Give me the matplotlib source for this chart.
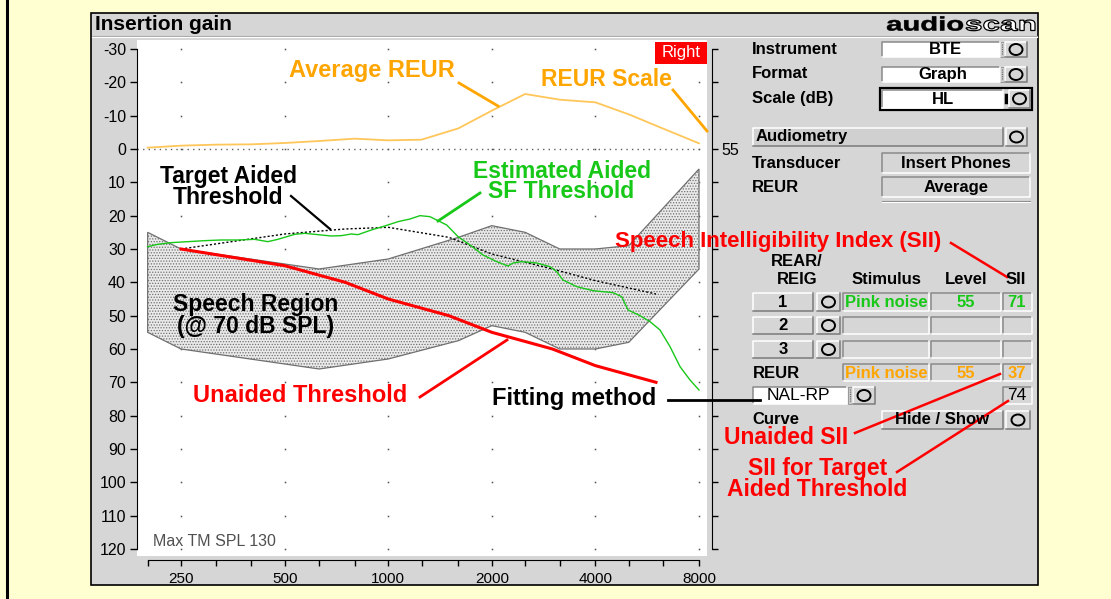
import numpy as np
import matplotlib.pyplot as plt
from matplotlib.patches import Rectangle, Ellipse, PathPatch
from matplotlib.textpath import TextPath
from matplotlib.font_manager import FontProperties
from matplotlib.transforms import Affine2D
from matplotlib.ticker import NullFormatter

plt.rcParams['font.family'] = ['Liberation Sans', 'DejaVu Sans']
plt.rcParams['hatch.linewidth'] = 0.6

# ---- curve data (frequency in Hz, level in dB HL) ----
reur_freq = [200, 250, 315, 400, 500, 630, 800, 1000, 1250, 1600, 2000,
             2500, 3150, 4000, 5000, 6300, 8000]
reur_db = [-0.4, -1.0, -1.3, -1.4, -1.8, -2.4, -3.1, -2.6, -2.8, -6.2, -11.5,
           -16.5, -14.8, -14.0, -10.4, -6.1, -1.7]

audio_freq = [250, 500, 750, 1000, 1500, 2000, 3000, 4000, 6000]
unaided_db = [30, 35, 40, 45, 50, 55, 60, 65, 70]
target_db = [30, 25.5, 24, 23.5, 26.5, 31.5, 36, 39.5, 43.5]

speech_freq = [200, 250, 630, 1000, 1600, 2000, 2500, 3150, 4000, 5000, 8000]
speech_upper = [25, 30, 36, 33, 26.5, 23, 25, 30, 30, 29, 6]
speech_lower = [55, 60, 66, 63, 57.5, 53, 55, 60, 60, 58, 36]

aided_freq = [200, 214, 234, 293, 327, 366, 409, 447, 478, 535, 572, 611,
              683, 731, 781, 817, 893, 977, 1068, 1157, 1237, 1322, 1479,
              1596, 1729, 1886, 2067, 2229, 2305, 2443, 2700, 2952, 3087,
              3220, 3530, 3937, 4500, 4770, 4976, 5392, 5765, 6163, 6590,
              7047, 7533, 8000]
aided_db = [29.3, 28.6, 28.1, 27.5, 27.3, 27.3, 27.1, 27.8, 27.1, 25.6, 25.3,
            25.6, 26.1, 26.0, 25.5, 25.7, 24.3, 23.1, 21.8, 21.0, 20.0, 20.3,
            22.8, 26.3, 28.8, 31.8, 33.8, 35.1, 34.2, 33.8, 34.2, 35.3, 36.8,
            39.3, 41.3, 42.5, 43.1, 44.3, 48.3, 50.0, 51.8, 54.3, 59.3, 65.3,
            69.3, 72.3]

major_freq = [250, 500, 1000, 2000, 4000, 8000]
major_labels = ['250', '500', '1000', '2000', '4000', '8000']
minor_freq = [200, 315, 400, 630, 800, 1250, 1600, 2500, 3150, 5000, 6300]
level_ticks = list(range(-30, 121, 10))
reur_scale_ref = '55'

# SII table
stimuli = ['Pink noise', '', '']
levels = ['55', '', '']
sii_values = ['71', '', '']
reur_row = ['Pink noise', '55', '37']
target_sii = '74'

W, H = 1111, 599
YELLOW = '#FFFFD2'
PANEL = '#D6D6D6'
RED = '#FF0000'
ORANGE = '#FFA500'
GREEN = '#18C818'

fig = plt.figure(figsize=(W / 100, H / 100), dpi=100, facecolor=YELLOW)


def pixel_axes(z):
    a = fig.add_axes([0, 0, 1, 1], zorder=z)
    a.set_xlim(0, W)
    a.set_ylim(H, 0)
    a.axis('off')
    return a


# ---- window background ----
bg = pixel_axes(0)
bg.plot([6.5, 6.5], [0, H], color='black', lw=2.2)
bg.add_patch(Rectangle((91, 13), 947, 572, facecolor=PANEL,
                       edgecolor='black', lw=1.2))
bg.plot([92, 1037], [35.5, 35.5], color='#A8A8A8', lw=0.8)
bg.plot([92, 1037], [36.5, 36.5], color='white', lw=0.8)
bg.text(95, 25, 'Insertion gain', fontsize=15, fontweight='bold',
        va='center', ha='left')

# ---- graph ----
x0, x1, ytop, ybot = 137, 707, 40, 556
ax = fig.add_axes([x0 / W, 1 - ybot / H, (x1 - x0) / W, (ybot - ytop) / H],
                  zorder=1)
ax.set_facecolor('white')
ax.set_xscale('log')
octave_px = 103.6
ax.set_xlim(250 * 2 ** ((x0 - 181) / octave_px),
            250 * 2 ** ((x1 - 181) / octave_px))
ax.set_ylim((ybot - 149) / 3.333, (ytop - 149) / 3.333)

ax.set_xticks(major_freq)
ax.set_xticklabels(major_labels)
ax.set_xticks(minor_freq, minor=True)
ax.xaxis.set_minor_formatter(NullFormatter())
ax.set_yticks(level_ticks)
ax.set_yticklabels([str(v) for v in level_ticks])
ax.tick_params(axis='x', which='both', direction='out', length=4.5,
               width=1, pad=4, labelsize=11)
ax.tick_params(axis='y', direction='out', length=5, width=1, pad=3,
               labelsize=11.5)
for side in ('top', 'right'):
    ax.spines[side].set_visible(False)
ax.spines['left'].set_bounds(-30, 120)
ax.spines['bottom'].set_position(('outward', 3))
ax.spines['bottom'].set_bounds(200, 8000)

# grid points and the 0 dB reference line
gx, gy = np.meshgrid(major_freq, level_ticks)
ax.plot(gx.ravel(), gy.ravel(), ls='none', marker='s', ms=1.1,
        mfc='#505050', mec='none', zorder=1)
ax.plot([ax.get_xlim()[0], 8000], [0, 0], color='#606060', lw=1,
        ls=(0, (1, 3)), zorder=1)

# speech region
ax.fill(speech_freq + speech_freq[::-1], speech_upper + speech_lower[::-1],
        facecolor='#EAEAEA', edgecolor='#707070', lw=0.9, hatch='......',
        zorder=2)

ax.plot(reur_freq, reur_db, color='#FFC65A', lw=1.3, zorder=3)
ax.plot(audio_freq, target_db, color='black', lw=1, ls=(0, (1.5, 1.5)),
        zorder=3)
ax.plot(aided_freq, aided_db, color=GREEN, lw=1.0, zorder=4)
ax.plot(audio_freq, unaided_db, color=RED, lw=2.2, zorder=5)

ax.text(0.028, 0.013, 'Max TM SPL 130', transform=ax.transAxes,
        fontsize=11.5, color='#505050', va='bottom', ha='left')

# right scale (REUR reference)
ax2 = ax.twinx()
ax2.set_ylim(ax.get_ylim())
ax2.set_yticks(level_ticks)
ax2.set_yticklabels([reur_scale_ref if v == 0 else '' for v in level_ticks])
ax2.tick_params(axis='y', direction='out', length=4, width=1, pad=3,
                labelsize=11.5)
for side in ('top', 'left', 'bottom'):
    ax2.spines[side].set_visible(False)
ax2.spines['right'].set_position(('outward', 3.6))
ax2.spines['right'].set_bounds(-30, 120)

# ---- overlay: controls and callouts ----
ov = pixel_axes(5)


def bevel(xa, ya, xb, yb, fc, raised=True, lw=1.1):
    ov.add_patch(Rectangle((xa, ya), xb - xa, yb - ya, facecolor=fc,
                           edgecolor='none'))
    light, dark = ('white', '#7A7A7A') if raised else ('#8A8A8A', 'white')
    ov.plot([xa, xa, xb], [yb, ya, ya], color=light, lw=lw)
    ov.plot([xa, xb, xb], [yb, yb, ya], color=dark, lw=lw)


def circle_button(xa, ya, xb, yb):
    bevel(xa, ya, xb, yb, PANEL, raised=True)
    ov.add_patch(Ellipse(((xa + xb) / 2, (ya + yb) / 2), 13, 11,
                         fill=False, ec='black', lw=1.4))


def handle(xa, ya, xb, yb):
    ov.add_patch(Rectangle((xa, ya), xb - xa, yb - ya, facecolor='#C8C8C8',
                           edgecolor='#909090', lw=0.6))
    ov.plot([(xa + xb) / 2] * 2, [ya + 2, yb - 2], color='#707070', lw=0.8,
            ls=(0, (1, 1)))


def label(x, y, s, size=12, ha='left', color='black', weight='bold'):
    ov.text(x, y, s, fontsize=size, fontweight=weight, ha=ha, va='center',
            color=color)


# logo
def logo_word(s, xa, xb, base, hollow):
    tp = TextPath((0, 0), s, size=1,
                  prop=FontProperties(family='Liberation Sans',
                                      weight='bold'))
    ext = tp.get_extents()
    sx = (xb - xa) / ext.width
    path = tp.transformed(Affine2D().translate(-ext.x0, 0)
                          .scale(sx, -19.5).translate(xa, base))
    if hollow:
        ov.add_patch(PathPatch(path, facecolor='white', edgecolor='black',
                               lw=0.9))
    else:
        ov.add_patch(PathPatch(path, facecolor='black', edgecolor='black',
                               lw=0.4))


logo_word('audio', 887, 963, 30.5, False)
logo_word('scan', 966, 1035, 30.5, True)

# "Right" ear badge
ov.add_patch(Rectangle((655, 42), 52, 22, facecolor=RED, edgecolor='none'))
label(681, 53, 'Right', size=12, ha='center', color='white', weight='normal')

# instrument settings
label(752, 49, 'Instrument')
bevel(882, 42, 1000, 57, 'white', raised=False)
handle(1000, 42, 1004, 57)
circle_button(1005, 42, 1027, 57)
label(945, 49.5, 'BTE', ha='center')

label(752, 74, 'Format')
bevel(882, 67, 1000, 82, 'white', raised=False)
handle(1000, 67, 1004, 82)
circle_button(1005, 67, 1027, 82)
label(943, 74.5, 'Graph', ha='center')

label(752, 99, 'Scale (dB)')
ov.add_patch(Rectangle((880, 87.5), 152, 22.5, facecolor='none',
                       edgecolor='black', lw=1.6))
bevel(882, 89.5, 1003, 108, 'white', raised=False)
ov.plot([1005.5, 1005.5], [95, 96.5], color='black', lw=2.5)
ov.plot([1005.5, 1005.5], [100, 101.5], color='black', lw=2.5)
circle_button(1009, 89.5, 1030, 108)
label(943, 99, 'HL', ha='center')

bevel(753, 128, 1003, 146, '#D0D0D0', raised=True)
label(756, 137, 'Audiometry')
circle_button(1006, 128, 1027, 146)

label(752, 164, 'Transducer')
bevel(882, 153, 1030, 173, PANEL, raised=False)
label(956, 163.5, 'Insert Phones', ha='center')

label(752, 188, 'REUR')
bevel(882, 177, 1030, 197, PANEL, raised=False)
label(956, 187.5, 'Average', ha='center')
ov.plot([882, 1030], [201, 201], color='#8A8A8A', lw=0.8)
ov.plot([882, 1030], [202, 202], color='white', lw=0.8)

# SII table
label(797, 261, 'REAR/', ha='center')
label(797, 280, 'REIG', ha='center')
label(886, 280, 'Stimulus', ha='center')
label(966, 280, 'Level', ha='center')
label(1016, 280, 'SII', ha='center')

row_y = [(293, 311), (317, 334), (341, 358)]
for i, (ya, yb) in enumerate(row_y):
    bevel(753, ya, 813, yb, PANEL, raised=True)
    label(783, (ya + yb) / 2 + 0.5, str(i + 1), ha='center')
    circle_button(817, ya, 840, yb)
    bevel(843, ya, 929, yb, PANEL, raised=False)
    bevel(931, ya, 1001, yb, PANEL, raised=False)
    bevel(1003, ya, 1032, yb, PANEL, raised=False)
    yc = (ya + yb) / 2 + 0.5
    label(845, yc, stimuli[i], color=GREEN)
    label(966, yc, levels[i], ha='center', color=GREEN)
    label(1017, yc, sii_values[i], ha='center', color=GREEN)

label(753, 373, 'REUR')
bevel(843, 364, 929, 381, PANEL, raised=False)
bevel(931, 364, 1001, 381, PANEL, raised=False)
bevel(1003, 364, 1032, 381, PANEL, raised=False)
label(845, 373, reur_row[0], color=ORANGE)
label(966, 373, reur_row[1], ha='center', color=ORANGE)
label(1017, 373, reur_row[2], ha='center', color=ORANGE)

bevel(753, 387, 847, 404, 'white', raised=False)
label(798, 395.5, 'NAL-RP', ha='center', weight='normal', size=12.5)
handle(848, 387, 852, 404)
circle_button(853, 387, 875, 404)
bevel(1003, 387, 1032, 404, PANEL, raised=False)
label(1017, 395.5, target_sii, ha='center', weight='normal', size=12.5)

label(752, 419, 'Curve')
bevel(882, 411, 1003, 429, '#D0D0D0', raised=True)
label(942, 420, 'Hide / Show', ha='center')
circle_button(1006, 411, 1030, 429)

# ---- callouts ----
CS = 16.5
label(372, 70, 'Average REUR', size=17, ha='center', color=ORANGE)
ov.plot([459, 498], [83, 106], color=ORANGE, lw=2)
label(606, 80, 'REUR Scale', size=CS, ha='center', color=ORANGE)
ov.plot([673, 707], [90, 131], color=ORANGE, lw=2)

label(228, 176, 'Target Aided', size=CS, ha='center')
label(228, 197, 'Threshold', size=CS, ha='center')
ov.plot([291, 330], [196, 229], color='black', lw=1.6)

label(562, 171, 'Estimated Aided', size=CS, ha='center', color=GREEN)
label(561, 192, 'SF Threshold', size=CS, ha='center', color=GREEN)
ov.plot([480, 438], [193, 221], color=GREEN, lw=2)

label(256, 304, 'Speech Region', size=CS, ha='center')
label(256, 326, '(@ 70 dB SPL)', size=CS, ha='center')

label(300, 396, 'Unaided Threshold', size=17, ha='center', color=RED)
ov.plot([420, 507], [397, 340], color=RED, lw=2)

label(574, 399, 'Fitting method', size=17, ha='center')
ov.plot([668, 760], [400, 400], color='black', lw=2)

label(778, 242, 'Speech Intelligibility Index (SII)', size=16, ha='center',
      color=RED)
ov.plot([951, 1007], [243, 277], color=RED, lw=1.8)

label(786, 437, 'Unaided SII', size=CS, ha='center', color=RED)
ov.plot([855, 1000], [433, 374], color=RED, lw=1.8)
label(818, 469, 'SII for Target', size=CS, ha='center', color=RED)
label(817, 490, 'Aided Threshold', size=CS, ha='center', color=RED)
ov.plot([897, 1008], [472, 401], color=RED, lw=1.8)

fig.savefig('out.png', dpi=100, facecolor=YELLOW)
